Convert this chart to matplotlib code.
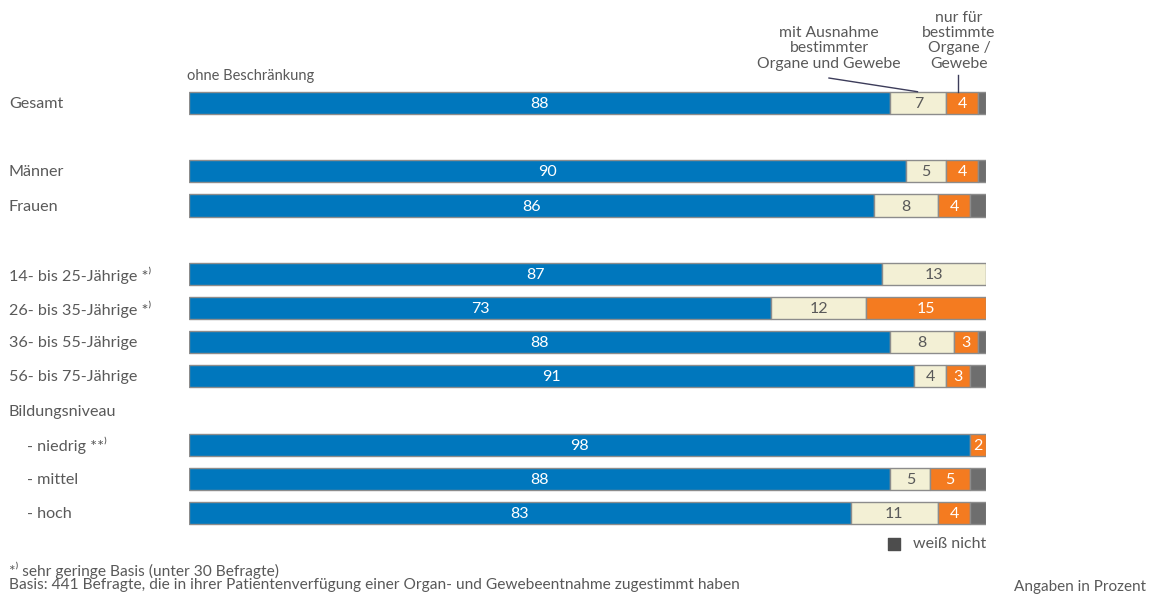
import matplotlib.pyplot as plt
import numpy as np

# Data
ROW_LABELS = ['Gesamt', '', 'Männer', 'Frauen', '',
              '14- bis 25-Jährige *⁾', '26- bis 35-Jährige *⁾',
              '36- bis 55-Jährige', '56- bis 75-Jährige',
              'Bildungsniveau', '- niedrig **⁾', '- mittel', '- hoch']
INDENTED = [False] * 10 + [True, True, True]
HAS_BAR = [True, False, True, True, False, True, True, True, True, False, True, True, True]
OHNE = [88, 0, 90, 86, 0, 87, 73, 88, 91, 0, 98, 88, 83]
MIT_AUSNAHME = [7, 0, 5, 8, 0, 13, 12, 8, 4, 0, 0, 5, 11]
NUR_FUER = [4, 0, 4, 4, 0, 0, 15, 3, 3, 0, 2, 5, 4]
WEISS_NICHT = [1, 0, 1, 2, 0, 0, 0, 1, 2, 0, 0, 2, 2]

# Styles
COLORS = ['#0077bd', '#f3f0d5', '#f47b20', '#6e6e6e']
LABEL_COLORS = ['white', '#595959', 'white', None]
EDGE = '#8c8c8c'
TEXT = '#595959'
FONT = ['Lato', 'DejaVu Sans']
BAR_HEIGHT = 0.65
PX = 7.97  # pixels per percent

plt.rcParams['font.family'] = FONT


def main():
    fig = plt.figure(figsize=(11.5, 5.97), dpi=100)
    ax = fig.add_axes([189 / 1150, 1 - 530.1 / 597, 797 / 1150, 444.2 / 597])
    draw_bars(ax)
    style_axes(ax)
    add_texts(fig, ax)
    fig.savefig('out.png', dpi=100)


def draw_bars(ax):
    y = np.arange(len(ROW_LABELS))
    series = [OHNE, MIT_AUSNAHME, NUR_FUER, WEISS_NICHT]
    left = np.zeros(len(y))
    for vals, color, lc in zip(series, COLORS, LABEL_COLORS):
        vals = np.array(vals, dtype=float)
        for i in range(len(y)):
            if not HAS_BAR[i] or vals[i] == 0:
                continue
            ax.barh(y[i], vals[i], left=left[i], height=BAR_HEIGHT, color=color,
                    edgecolor=EDGE, linewidth=1)
            if lc is not None:
                ax.text(left[i] + vals[i] / 2, y[i] + 0.03, f'{int(vals[i])}', ha='center',
                        va='center', color=lc, fontsize=11.5)
        left += vals


def style_axes(ax):
    ax.set_xlim(0, 100)
    ax.set_ylim(12.5, -0.5)
    ax.axis('off')


def add_texts(fig, ax):
    for i, lab in enumerate(ROW_LABELS):
        if lab:
            x = (27 - 189) / PX if INDENTED[i] else (9 - 189) / PX
            ax.text(x, i + 0.03, lab, ha='left', va='center', color=TEXT, fontsize=11.6)

    ax.text(-0.2, -0.79, 'ohne Beschränkung', ha='left', va='center', color=TEXT, fontsize=10.5)
    ax.text(80.3, -0.95, 'mit Ausnahme\nbestimmter\nOrgane und Gewebe', ha='center',
            va='bottom', color=TEXT, fontsize=11.3, linespacing=1.12)
    ax.plot([80.3, 91.4], [-0.73, -0.33], color='#3c3c5a', lw=1, clip_on=False)
    ax.text(96.6, -0.95, 'nur für\nbestimmte\nOrgane /\nGewebe', ha='center',
            va='bottom', color=TEXT, fontsize=11.3, linespacing=1.12)
    ax.plot([96.5, 96.5], [-0.82, -0.33], color='#3c3c5a', lw=1, clip_on=False)

    # legend
    ax.scatter([88.4], [12.9], marker='s', s=70, color='#4d4d4d', clip_on=False)
    ax.text(100, 12.9, 'weiß nicht', ha='right', va='center', color=TEXT, fontsize=11.5)

    fig.text(9 / 1150, 1 - 570 / 597, '*⁾ sehr geringe Basis (unter 30 Befragte)',
             ha='left', va='center', color=TEXT, fontsize=11.2)
    fig.text(9 / 1150, 1 - 585 / 597,
             'Basis: 441 Befragte, die in ihrer Patientenverfügung einer Organ- und '
             'Gewebeentnahme zugestimmt haben',
             ha='left', va='center', color=TEXT, fontsize=11.2)
    fig.text(1146 / 1150, 1 - 587 / 597, 'Angaben in Prozent', ha='right', va='center',
             color=TEXT, fontsize=11)


if __name__ == '__main__':
    main()
